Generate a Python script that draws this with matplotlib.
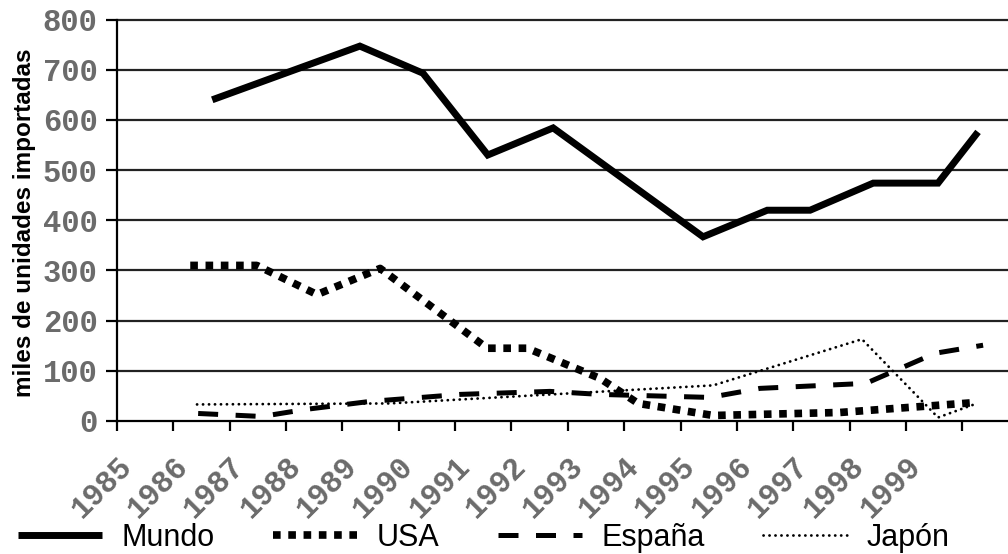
import matplotlib
matplotlib.use("Agg")
import matplotlib.pyplot as plt

# ---- data ----
years_ticks = list(range(1985, 2001))
year_labels = [str(y) for y in range(1985, 2000)] + [""]
y_ticks = [0, 100, 200, 300, 400, 500, 600, 700, 800]

mundo_x = [1986.69, 1989.31, 1990.43, 1991.58, 1992.74, 1995.40, 1996.54, 1997.30, 1998.42, 1999.57, 2000.28]
mundo_y = [640, 747, 693, 530, 584, 367, 420, 420, 474, 474, 576]

usa_x = [1986.30, 1987.48, 1988.55, 1989.67, 1991.57, 1992.28, 1993.57, 1994.25, 1995.58, 1997.83, 2000.26]
usa_y = [310, 310, 252, 304, 145, 145, 85, 35, 11, 17, 37]

espana_x = [1986.44, 1987.57, 1988.34, 1989.49, 1991.09, 1992.68, 1993.57, 1995.52, 1996.41, 1998.29, 1999.52, 2000.37]
espana_y = [15, 9, 23, 39, 53, 59, 53, 47, 65, 75, 135, 151]

japon_x = [1986.42, 1989.84, 1995.58, 1998.22, 1999.57, 2000.26]
japon_y = [33, 35, 71, 163, 7, 35]

W, H = 1008, 554
fig = plt.figure(figsize=(W / 100, H / 100), dpi=100)
ax = fig.add_axes([117 / W, 133 / H, 891 / W, 404 / H])
ax.set_xlim(1985, 1985 + 891 / 56.35)
ax.set_ylim(0, 805)

for v in y_ticks[1:]:
    ax.axhline(v, color="#222222", lw=1.6, zorder=1)

ax.plot(mundo_x, mundo_y, color="black", lw=5.0, solid_joinstyle="miter",
        solid_capstyle="butt", label="Mundo", zorder=3)
ax.plot(usa_x, usa_y, color="black", lw=5.5, linestyle=(0, (1, 1)),
        dash_capstyle="butt", label="USA", zorder=3)
ax.plot(espana_x, espana_y, color="black", lw=3.6, linestyle=(0, (4, 3.5)),
        dash_capstyle="butt", label="España", zorder=3)
ax.plot(japon_x, japon_y, color="black", lw=2.0, linestyle=(0, (0.05, 2.1)),
        dash_capstyle="round", label="Japón", zorder=3)

for s in ["top", "right"]:
    ax.spines[s].set_visible(False)
ax.spines["left"].set_linewidth(1.6)
ax.spines["bottom"].set_linewidth(1.6)
ax.spines["left"].set_bounds(0, 800)

tick_font = dict(family="Liberation Mono", weight="bold", size=22, color="#6b6b6b")
ax.set_yticks(y_ticks)
ax.set_yticklabels([str(v) for v in y_ticks], **tick_font)
ax.set_xticks(years_ticks)
ax.set_xticklabels(year_labels, rotation=45, ha="right", va="top",
                   rotation_mode="anchor", **tick_font)
ax.tick_params(axis="y", direction="out", length=8, width=1.6, pad=6)
ax.tick_params(axis="x", direction="out", length=7, width=1.6, pad=15)

ax.set_ylabel("miles de unidades importadas", family="Liberation Sans",
              weight="bold", size=17.5, color="black", va="center")
ax.yaxis.set_label_coords((25 - 117) / 891, (421 - 223) / 404)

leg = fig.legend(loc="center left", bbox_to_anchor=(18 / W, (H - 538) / H),
                 ncol=4, frameon=False, borderpad=0, borderaxespad=0,
                 handlelength=2.75, handletextpad=0.65, columnspacing=1.9,
                 prop=dict(family="Liberation Sans", size=22))

fig.savefig("out.png", dpi=100)
